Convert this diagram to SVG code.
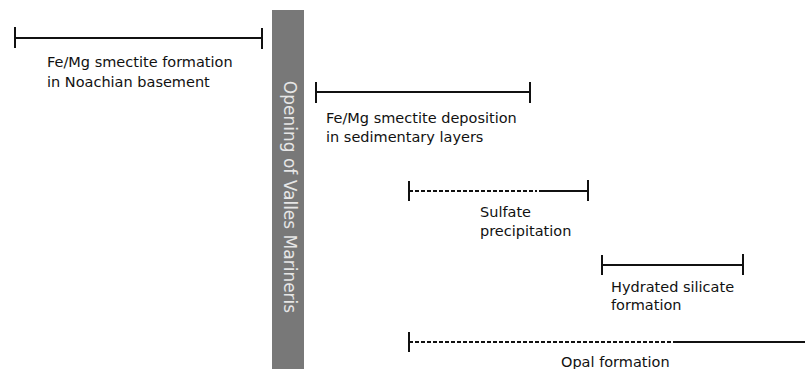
<svg xmlns="http://www.w3.org/2000/svg" width="805" height="369" viewBox="0 0 805 369">
<style>
.bar{stroke:#111;stroke-width:2;fill:none}
.tick{stroke:#111;stroke-width:2;fill:none}
.dash{stroke:#111;stroke-width:2;fill:none;stroke-dasharray:4,2}
.lbl{font-family:"DejaVu Sans",sans-serif;font-size:14.5px;fill:#111}
.vlbl{font-family:"DejaVu Sans",sans-serif;font-size:17px;fill:#e6e6e6}
</style>
<rect width="805" height="369" fill="#fff"/>
<g id="valles">
<rect x="272" y="10" width="32" height="359" fill="#787878"/>
<text class="vlbl" transform="translate(284,197) rotate(90)" text-anchor="middle">Opening of Valles Marineris</text>
</g>
<g id="connectors">
<line class="bar" x1="15" y1="38" x2="262" y2="38"/>
<line class="tick" x1="15" y1="27" x2="15" y2="48"/>
<line class="tick" x1="262" y1="28" x2="262" y2="49"/>
<line class="bar" x1="316" y1="92" x2="530" y2="92"/>
<line class="tick" x1="316" y1="82" x2="316" y2="103"/>
<line class="tick" x1="530" y1="82" x2="530" y2="103"/>
<line class="dash" x1="409" y1="191" x2="537" y2="191"/>
<line class="bar" x1="539" y1="191" x2="588" y2="191"/>
<line class="tick" x1="409" y1="181" x2="409" y2="201"/>
<line class="tick" x1="588" y1="180" x2="588" y2="201"/>
<line class="bar" x1="602" y1="265" x2="743" y2="265"/>
<line class="tick" x1="602" y1="255" x2="602" y2="275"/>
<line class="tick" x1="743" y1="254" x2="743" y2="275"/>
<line class="dash" x1="409" y1="342" x2="673" y2="342"/>
<line class="bar" x1="673" y1="342" x2="805" y2="342"/>
<line class="tick" x1="409" y1="332" x2="409" y2="352"/>
</g>
<g id="n1"><text class="lbl" x="47" y="67">Fe/Mg smectite formation</text><text class="lbl" x="47" y="87">in Noachian basement</text></g>
<g id="n2"><text class="lbl" x="326" y="123">Fe/Mg smectite deposition</text><text class="lbl" x="326" y="142">in sedimentary layers</text></g>
<g id="n3"><text class="lbl" x="480" y="217">Sulfate</text><text class="lbl" x="480" y="236">precipitation</text></g>
<g id="n4"><text class="lbl" x="611" y="292">Hydrated silicate</text><text class="lbl" x="611" y="310">formation</text></g>
<g id="n5"><text class="lbl" x="561" y="367">Opal formation</text></g>
</svg>
